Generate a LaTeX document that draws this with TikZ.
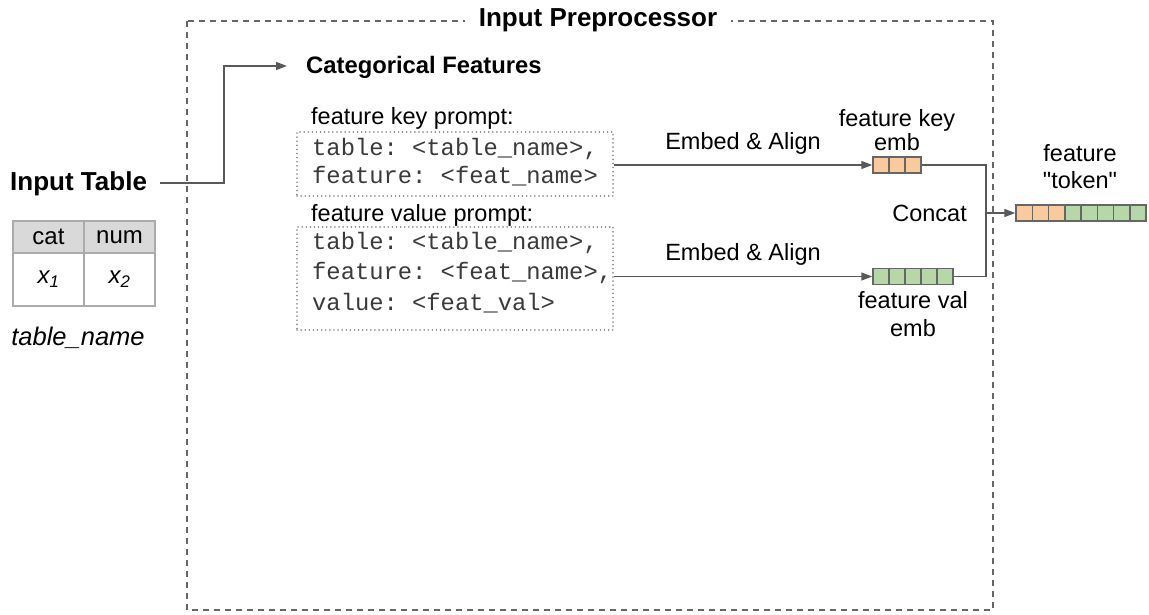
\documentclass[tikz,border=0pt]{standalone}
\usepackage{fontspec}
\setmainfont{Liberation Sans}
\setmonofont{Liberation Mono}
\newfontfamily\plainsans{Liberation Sans}
\usetikzlibrary{arrows.meta}
\definecolor{linegray}{HTML}{595959}
\definecolor{dashgray}{HTML}{666666}
\definecolor{dotgray}{HTML}{8A8A8A}
\definecolor{tabgray}{HTML}{ABABAB}
\definecolor{headfill}{HTML}{D9D9D9}
\definecolor{keyfill}{HTML}{F9CB9C}
\definecolor{valfill}{HTML}{B6D7A8}
\definecolor{cellborder}{HTML}{666666}
\definecolor{monotext}{HTML}{3A3A3A}
\tikzset{
  body/.style={font=\fontsize{23.5}{27}\selectfont, inner sep=0pt},
  boldtitle/.style={font=\fontsize{26}{30}\selectfont\bfseries, inner sep=0pt},
  subtitle/.style={font=\fontsize{23.8}{28}\selectfont\bfseries, inner sep=0pt},
  mono/.style={font=\fontsize{23.8}{27}\ttfamily, inner sep=0pt, anchor=west, text=monotext},
  promptbox/.style={draw=dotgray, line width=1.6pt, dash pattern=on 0.1pt off 4pt, line cap=round, minimum width=316pt, inner sep=0pt},
  conn/.style={draw=linegray, line width=1.5pt},
  arr/.style={conn, -{Triangle[length=11pt,width=8pt]}},
  emb/.style={draw=cellborder, line width=1.5pt, minimum width=16pt, minimum height=16pt, inner sep=0pt},
  kcell/.style={emb, fill=keyfill},
  vcell/.style={emb, fill=valfill},
  tabcell/.style={draw=tabgray, line width=1.5pt, inner sep=0pt, font=\fontsize{24}{27}\selectfont},
}
\begin{document}
\begin{tikzpicture}[x=1pt, y=-1pt]
\useasboundingbox (0,0) rectangle (1149,615);
\fill[white] (0,0) rectangle (1149,615);

% preprocessor frame
\draw[dashgray, line width=1.5pt, dash pattern=on 6pt off 5pt] (187,21) rectangle (993,610);
\node[boldtitle, fill=white, inner xsep=14pt, inner ysep=4pt] (title) at (598,20) {Input Preprocessor};

% input table
\node[boldtitle, anchor=west] (intab) at (10,184) {Input Table};
\node[tabcell, fill=headfill, minimum width=71pt, minimum height=32pt] (hcat) at (48.5,237) {cat};
\node[tabcell, fill=headfill, minimum width=71pt, minimum height=32pt] (hnum) at (119.5,237) {num};
\node[tabcell, minimum width=71pt, minimum height=53pt] (xcat) at (48.5,279.5) {\itshape x\textsubscript{1}};
\node[tabcell, minimum width=71pt, minimum height=53pt] (xnum) at (119.5,279.5) {\itshape x\textsubscript{2}};
\node[body, font=\fontsize{25.5}{29}\selectfont\itshape] (tname) at (78,338) {table\_name};

% categorical branch
\node[subtitle, anchor=west] (catf) at (306,67) {Categorical Features};
\coordinate (tabout) at (160,183);
\coordinate (bend) at (224,183);
\coordinate (catin) at (287,66);
\draw[arr] (tabout) -- (bend) |- (catin);

% prompts
\node[body, anchor=west] (klab) at (311,118) {feature key prompt:};
\node[promptbox, minimum height=64pt] (kbox) at (455,164) {};
\node[mono] (k1t) at (312,149) {table: <table\_name>,};
\node[mono] (k2t) at (312,176) {feature: <feat\_name>};

\node[body, anchor=west] (vlab) at (311,215) {feature value prompt:};
\node[promptbox, minimum height=103pt] (vbox) at (455,278.5) {};
\node[mono] (v1t) at (312,243) {table: <table\_name>,};
\node[mono] (v2t) at (312,273) {feature: <feat\_name>,};
\node[mono] (v3t) at (312,303) {value: <feat\_val>};

% embeddings
\foreach \i in {1,2,3} \node[kcell] (k\i) at (873+16*\i-8,165) {};
\foreach \i in {1,...,5} \node[vcell] (v\i) at (873+16*\i-8,276.5) {};
\foreach \i in {1,2,3} \node[kcell, minimum width=16.25pt] (t\i) at (1016+16.25*\i-8.125,213) {};
\foreach \i in {4,...,8} \node[vcell, minimum width=16.25pt] (t\i) at (1016+16.25*\i-8.125,213) {};

\draw[arr] (kbox.east |- k1.west) -- node[body, above=10pt] (ea1) {Embed \& Align} (k1.west);
\draw[arr] (vbox.east |- v1.west) -- node[body, above=10pt] (ea2) {Embed \& Align} (v1.west);

\node[body, align=center, font=\fontsize{23.5}{24}\selectfont] (klbl) at (897,130) {feature key\\emb};
\node[body, align=center, font=\fontsize{23.5}{28}\selectfont] (vlbl) at (913,314) {feature val\\emb};
\node[body, align=center, font=\fontsize{23.5}{27}\plainsans] (tlbl) at (1080,167) {feature\\"token"};

% concatenation
\coordinate (join) at (986,213);
\draw[conn] (k3.east) -| (join) |- (v5.east);
\draw[arr] (join) -- (t1.west);
\node[body, anchor=east] (concat) at (967,213) {Concat};
\end{tikzpicture}
\end{document}
